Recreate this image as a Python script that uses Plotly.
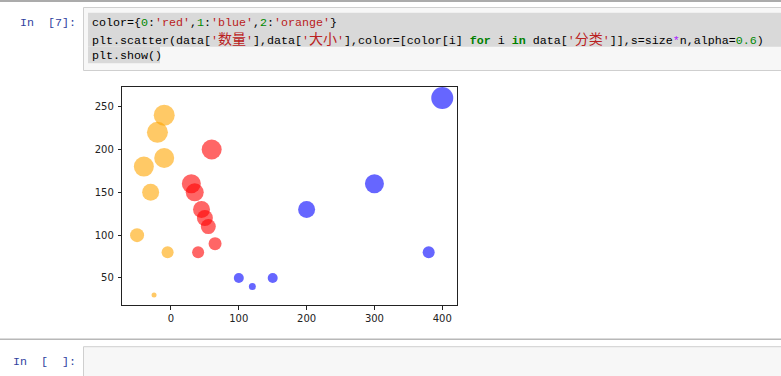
import plotly.graph_objects as go

# ---- data ----
shuliang = [-50, -40, -30, -20, -10, -10, -5, -25,      # 分类 2
            30, 35, 45, 50, 55, 60, 65, 40,              # 分类 0
            100, 120, 150, 200, 300, 380, 400]           # 分类 1
daxiao = [100, 180, 150, 220, 240, 190, 80, 30,
          160, 150, 130, 120, 110, 200, 90, 80,
          50, 40, 50, 130, 160, 80, 260]
fenlei = [2, 2, 2, 2, 2, 2, 2, 2,
          0, 0, 0, 0, 0, 0, 0, 0,
          1, 1, 1, 1, 1, 1, 1]
bubble = [14, 20, 17, 21, 21, 20, 12, 5,
          19, 18, 17, 16, 15, 20, 13, 12,
          10, 7, 10, 17, 19, 12, 22]
color_map = {0: 'red', 1: 'blue', 2: 'orange'}
xticks = [0, 100, 200, 300, 400]
yticks = [50, 100, 150, 200, 250]

W, H = 781, 376
def px(x):
    return x / W
def py(y):
    return 1 - y / H

fig = go.Figure()
fig.add_trace(go.Scatter(
    x=shuliang, y=daxiao, mode='markers',
    marker=dict(color=[color_map[i] for i in fenlei], size=bubble,
                opacity=0.6, line=dict(width=0)),
    hoverinfo='skip', showlegend=False))

axis_common = dict(showgrid=False, zeroline=False, showline=True, mirror=True,
                   linecolor='#222', linewidth=1, ticks='outside', ticklen=3.5,
                   tickwidth=1, tickcolor='#222',
                   tickfont=dict(family='DejaVu Sans', size=10, color='#222'))
fig.update_xaxes(range=[-71.8, 422.2], tickvals=xticks, ticktext=[str(v) for v in xticks],
                 domain=[px(122.3), px(457.3)], **axis_common)
fig.update_yaxes(range=[18.1, 273.3], tickvals=yticks, ticktext=[str(v) for v in yticks],
                 domain=[py(305.3), py(86.7)], ticklabelstandoff=2, **axis_common)

shapes = []
# top separator
shapes.append(dict(type='line', xref='paper', yref='paper', x0=0, x1=1.02,
                   y0=py(1), y1=py(1), line=dict(color='#ababab', width=2)))
# code cell box
shapes.append(dict(type='rect', xref='paper', yref='paper', x0=px(83.5), x1=px(790),
                   y0=py(70.5), y1=py(7.5), fillcolor='#f7f7f7',
                   line=dict(color='#cfcfcf', width=1), layer='below'))
# selection highlight lines 1-2
shapes.append(dict(type='rect', xref='paper', yref='paper', x0=px(88), x1=px(790),
                   y0=py(46.7), y1=py(12.7), fillcolor='#d9d9d9',
                   line=dict(width=0), layer='below'))
# selection highlight line 3
shapes.append(dict(type='rect', xref='paper', yref='paper', x0=px(88), x1=px(160),
                   y0=py(63.2), y1=py(46.7), fillcolor='#d9d9d9',
                   line=dict(width=0), layer='below'))
# bottom separator
shapes.append(dict(type='line', xref='paper', yref='paper', x0=0, x1=1.02,
                   y0=py(339.3), y1=py(339.3), line=dict(color='#b8b8b8', width=1.5)))
# empty cell box
shapes.append(dict(type='rect', xref='paper', yref='paper', x0=px(83.5), x1=px(790),
                   y0=py(390), y1=py(346.7), fillcolor='#f7f7f7',
                   line=dict(color='#cfcfcf', width=1), layer='below'))

NB = '\u00a0'
def c(txt, col):
    return f'<span style="color:{col}">{txt}</span>'
def num(t):
    return c(t, '#008800')
def s(t):
    return c(t, '#BA2121')
def cjk(t):
    return f'<span style="font-size:14px">{t}</span>'
def kw(t):
    return f'<b>{c(t, "#008000")}</b>'

line1 = ('color={' + num('0') + ':' + s("'red'") + ',' + num('1') + ':' + s("'blue'") +
         ',' + num('2') + ':' + s("'orange'") + '}')
line2 = ("plt.scatter(data[" + s("'" + cjk('数量') + "'") + "],data[" + s("'" + cjk('大小') + "'") +
         "],color=[color[i]" + NB + kw('for') + NB + 'i' + NB + kw('in') + NB + "data[" +
         s("'" + cjk('分类') + "'") + "]],s=size" + c('*', '#AA22FF') + "n,alpha=" + num('0.6') + ")")
line3 = 'plt.show()'

code_font = dict(family='Liberation Mono, Noto Sans CJK SC', size=11.67, color='#000')
annotations = []
for txt, yc in [(line1, 23.2), (line2, 39.8), (line3, 56.2)]:
    annotations.append(dict(text=txt, xref='paper', yref='paper', x=px(89.5), y=py(yc),
                            xanchor='left', yanchor='middle', showarrow=False,
                            font=code_font, align='left'))
prompt_font = dict(family='Liberation Mono', size=11.67, color='#303F9F')
annotations.append(dict(text='In' + NB + NB + '[7]:', xref='paper', yref='paper', x=px(78),
                        y=py(23.2), xanchor='right', yanchor='middle', showarrow=False,
                        font=prompt_font))
annotations.append(dict(text='In' + NB + NB + '[' + NB + NB + ']:', xref='paper', yref='paper',
                        x=px(78), y=py(361.7), xanchor='right', yanchor='middle',
                        showarrow=False, font=prompt_font))

fig.update_layout(width=W, height=H, margin=dict(l=0, r=0, t=0, b=0),
                  paper_bgcolor='white', plot_bgcolor='white',
                  shapes=shapes, annotations=annotations)
fig.write_html('out.html')
